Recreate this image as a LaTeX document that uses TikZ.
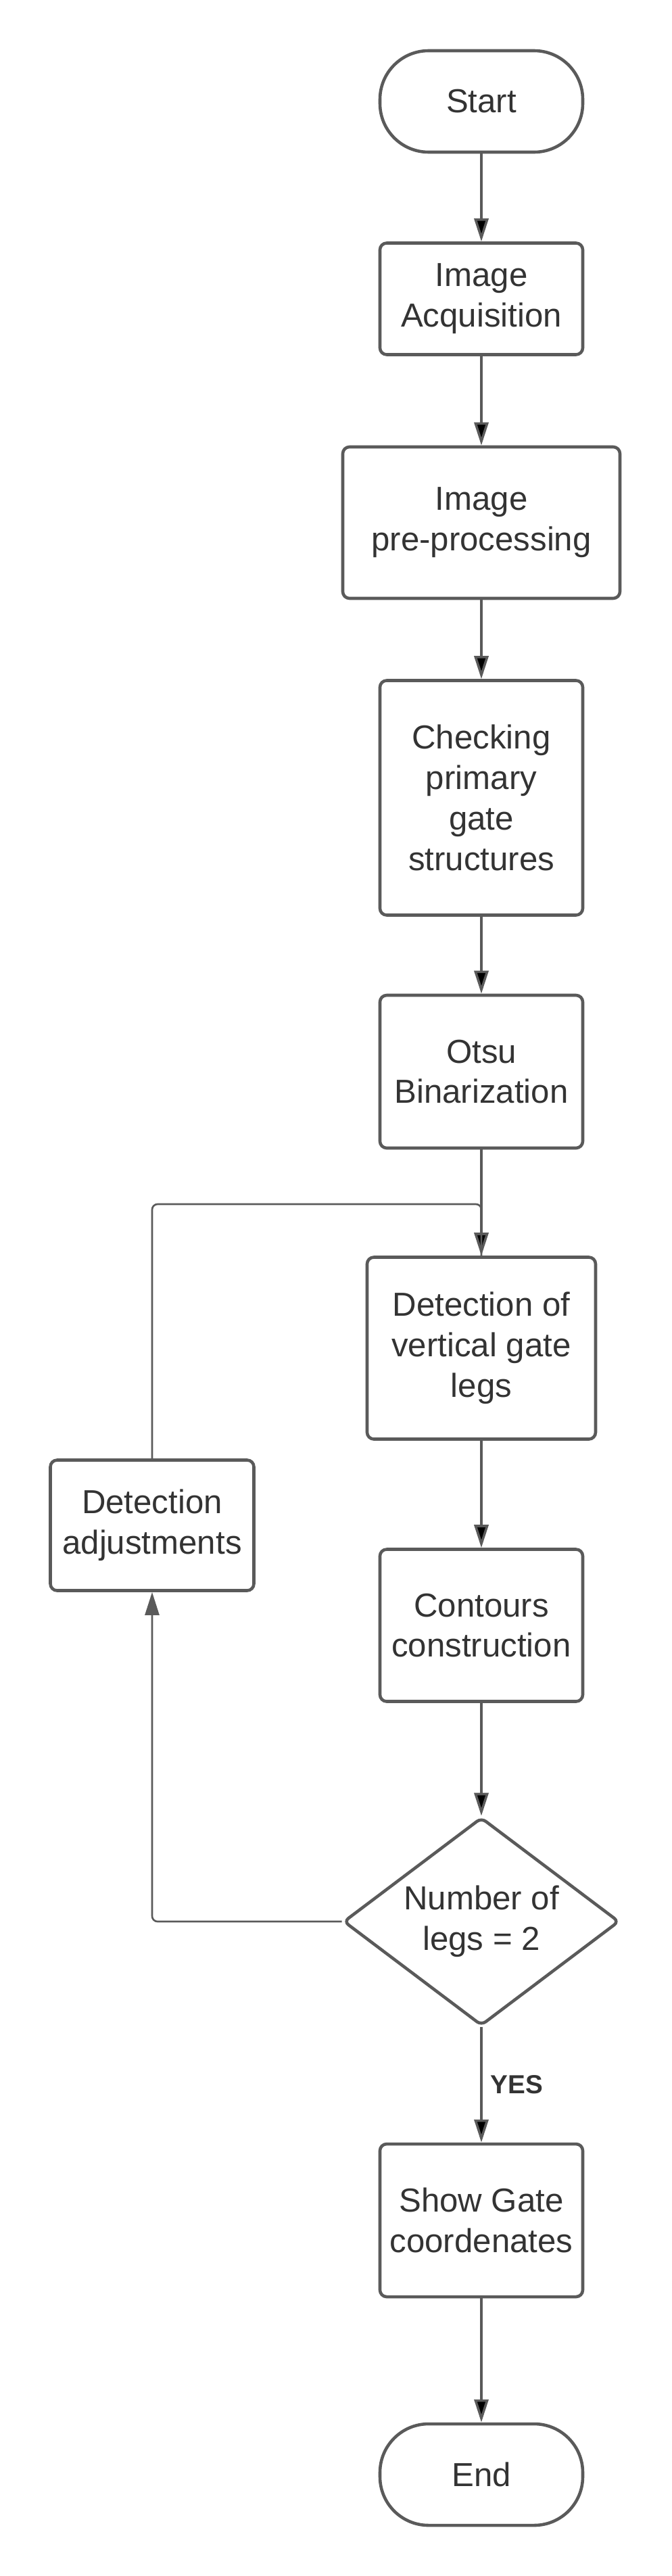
\documentclass[tikz,border=0pt]{standalone}
\usepackage{fontspec}
\setmainfont{Liberation Sans}
\usetikzlibrary{shapes.geometric, arrows.meta, positioning}

\definecolor{linegray}{RGB}{90,90,90}
\definecolor{textgray}{RGB}{51,51,51}

\begin{document}
\begin{tikzpicture} [
						auto,
						every node/.style={font=\fontsize{14}{17}\selectfont, text=textgray},
						terminal/.style={draw=linegray, line width=1.3pt, rounded corners=0.72cm, minimum width=3cm, minimum height=1.5cm, align=center},
						process/.style={draw=linegray, line width=1.3pt, rounded corners=0.1cm, minimum width=3cm, align=center},
						decision/.style={diamond, draw=linegray, line width=1.3pt, rounded corners=0.08cm, minimum width=4.03cm, minimum height=3.08cm, aspect=1.3, inner sep=0pt, align=center},
						flow/.style={draw=linegray, line width=1pt, -{Triangle[length=0.34cm, width=0.21cm]}},
						loopline/.style={draw=linegray, line width=0.75pt, rounded corners=0.08cm},
						yeslabel/.style={font=\bfseries\fontsize{11}{13}\selectfont, text=textgray}
					]

\useasboundingbox (0,0) rectangle (9.94,-38.10);

\node (start) [terminal] at (7.12,-1.5) {Start};
\node (acq) [process, minimum height=1.65cm, below of=start, node distance=2.92cm] {Image\\Acquisition};
\node (pre) [process, minimum width=4.1cm, minimum height=2.24cm, below of=acq, node distance=3.31cm] {Image\\pre-processing};
\node (check) [process, minimum height=3.47cm, below of=pre, node distance=4.07cm] {Checking\\primary\\gate\\structures};
\node (otsu) [process, minimum height=2.26cm, below of=check, node distance=4.05cm] {Otsu\\Binarization};
\node (legs) [process, minimum width=3.38cm, minimum height=2.69cm, below of=otsu, node distance=4.09cm] {Detection of\\vertical gate\\legs};
\node (cont) [process, minimum height=2.25cm, below of=legs, node distance=4.10cm] {Contours\\construction};
\node (num) [decision, minimum width=4.08cm, below of=cont, node distance=4.38cm] {Number of\\legs = 2};
\node (show) [process, minimum height=2.26cm, below of=num, node distance=4.42cm] {Show Gate\\coordenates};
\node (end) [terminal, below of=show, node distance=3.76cm] {End};
\node (adj) [process, minimum width=3.01cm, minimum height=1.93cm] at (2.25,-22.56) {Detection\\adjustments};
\coordinate (jn) at (7.12,-17.81);

\path[flow]
	(start) edge (acq)
	(acq)   edge (pre)
	(pre)   edge (check)
	(check) edge (otsu)
	(otsu)  edge (legs)
	(legs)  edge (cont)
	(cont)  edge (num)
	(num)   edge node[yeslabel] {YES} (show)
	(show)  edge (end);

% feedback loop
\draw[loopline, -{Triangle[length=0.34cm, width=0.21cm]}] (num.west) -| (adj.south);
\draw[loopline] (adj.north) |- (jn) -- (legs.north);
\end{tikzpicture}
\end{document}
